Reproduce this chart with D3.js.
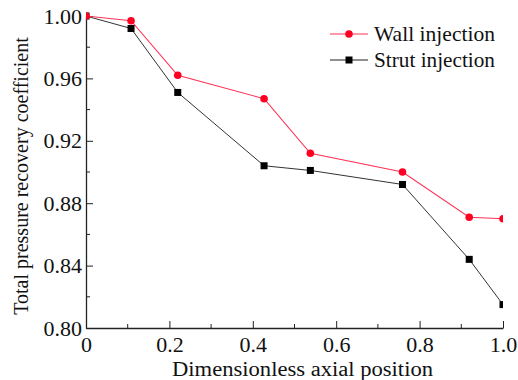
<!DOCTYPE html>
<html>
<head>
<meta charset="utf-8">
<script src="https://cdn.jsdelivr.net/npm/d3@7"></script>
<style>
  body { margin: 0; background: #fff; }
  svg text { font-family: "Liberation Serif", "Times New Roman", serif; fill: #111; }
</style>
</head>
<body>
<svg width="518" height="380"></svg>
<script>
const positions = [0, 0.108, 0.22, 0.427, 0.538, 0.759, 0.919, 1.0];
const wallInjection = [1.000, 0.997, 0.962, 0.947, 0.912, 0.900, 0.871, 0.870];
const strutInjection = [1.000, 0.992, 0.951, 0.904, 0.901, 0.892, 0.844, 0.815];
const xTicks = [0, 0.2, 0.4, 0.6, 0.8, 1.0];
const yTicks = [0.80, 0.84, 0.88, 0.92, 0.96, 1.00];

const svg = d3.select("svg");
const margin = { top: 16, left: 86, right: 15, bottom: 52 };
const width = 518, height = 380;
const w = width - margin.left - margin.right;
const h = height - margin.top - margin.bottom;
const serif = '"Liberation Serif", "Times New Roman", serif';

const x = d3.scaleLinear().domain([0, 1]).range([0, w]);
const y = d3.scaleLinear().domain([0.8, 1.0]).range([h, 0]);

const chart = svg.append("g")
  .attr("transform", `translate(${margin.left},${margin.top})`);

svg.append("defs").append("clipPath").attr("id", "plot")
  .append("rect").attr("x", 0).attr("y", -10).attr("width", w).attr("height", h + 10);

// minor ticks
chart.append("g").selectAll("line").data(d3.range(0.1, 1.0, 0.2)).join("line")
  .attr("x1", d => x(d)).attr("x2", d => x(d))
  .attr("y1", h).attr("y2", h - 4).attr("stroke", "#222");
chart.append("g").selectAll("line").data(d3.range(0.82, 1.0, 0.04)).join("line")
  .attr("y1", d => y(d)).attr("y2", d => y(d))
  .attr("x1", 0).attr("x2", 4).attr("stroke", "#222");

// axes
const xAxis = chart.append("g")
  .attr("transform", `translate(0,${h})`)
  .call(d3.axisBottom(x).tickValues(xTicks).tickSizeInner(-7).tickSizeOuter(0)
    .tickPadding(8).tickFormat(d => d === 0 ? "0" : d3.format(".1f")(d)));
const yAxis = chart.append("g")
  .call(d3.axisLeft(y).tickValues(yTicks).tickSizeInner(-7).tickSizeOuter(0)
    .tickPadding(4).tickFormat(d3.format(".2f")));
[xAxis, yAxis].forEach(a => {
  a.attr("font-family", serif).attr("font-size", 22);
  a.select(".domain").attr("stroke", "#222").attr("stroke-width", 1.3);
  a.selectAll(".tick line").attr("stroke", "#222");
  a.selectAll(".tick text").style("font-family", serif).style("font-size", "22px").attr("fill", "#111");
});
xAxis.selectAll(".tick text").attr("dy", "0.71em");

// series
const line = d3.line().x((d, i) => x(positions[i])).y(d => y(d));
const plot = chart.append("g").attr("clip-path", "url(#plot)");

plot.append("path").datum(strutInjection)
  .attr("fill", "none").attr("stroke", "#333").attr("stroke-width", 1).attr("d", line);
plot.append("path").datum(wallInjection)
  .attr("fill", "none").attr("stroke", "#ff3355").attr("stroke-width", 1.1).attr("d", line);

plot.selectAll(".sq").data(strutInjection).join("rect")
  .attr("x", (d, i) => x(positions[i]) - 3.5).attr("y", d => y(d) - 3.5)
  .attr("width", 7).attr("height", 7).attr("fill", "#000");
plot.selectAll(".ci").data(wallInjection).join("circle")
  .attr("cx", (d, i) => x(positions[i])).attr("cy", d => y(d))
  .attr("r", 3.8).attr("fill", "#ff0022");

// legend
const legend = svg.append("g");
const items = [
  { name: "Wall injection", color: "#ff3355", mark: "circle", y: 34 },
  { name: "Strut injection", color: "#222", mark: "square", y: 60 }
];
items.forEach(it => {
  legend.append("line").attr("x1", 330).attr("x2", 368).attr("y1", it.y).attr("y2", it.y)
    .attr("stroke", it.color).attr("stroke-width", 1.1);
  if (it.mark === "circle")
    legend.append("circle").attr("cx", 349).attr("cy", it.y).attr("r", 3.8).attr("fill", "#ff0022");
  else
    legend.append("rect").attr("x", 345.5).attr("y", it.y - 3.5).attr("width", 7).attr("height", 7).attr("fill", "#000");
  legend.append("text").attr("x", 374).attr("y", it.y + 7).style("font-family", serif).style("font-size", "21px")
    .attr("textLength", 121).attr("lengthAdjust", "spacingAndGlyphs").text(it.name);
});

// axis titles
svg.append("text").attr("x", 172).attr("y", 375.5)
  .style("font-family", serif).style("font-size", "20px")
  .attr("textLength", 261).attr("lengthAdjust", "spacingAndGlyphs")
  .text("Dimensionless axial position");
svg.append("text").attr("transform", `translate(28,${margin.top + h / 2 + 4}) rotate(-90)`)
  .attr("text-anchor", "middle").style("font-family", serif).style("font-size", "20px")
  .text("Total pressure recovery coefficient");
</script>
</body>
</html>
